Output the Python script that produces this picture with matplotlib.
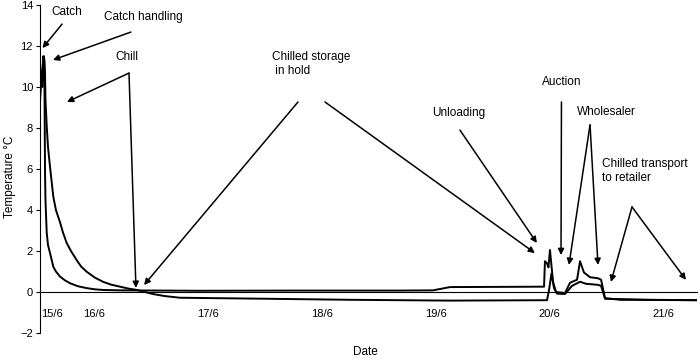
import matplotlib
matplotlib.use("Agg")
import matplotlib.pyplot as plt

plt.rcParams['font.family'] = ['Liberation Sans', 'DejaVu Sans']

# time in days (day of June), temperature in degC
fast_t = [15.523, 15.532, 15.543, 15.552, 15.561, 15.567, 15.571, 15.582, 15.593, 15.611,
          15.640, 15.663, 15.699, 15.742, 15.786, 15.857, 15.933, 16.006, 16.076, 16.226,
          16.929, 17.808, 18.686, 18.976, 19.126,
          19.565, 19.952, 19.960, 19.978, 19.991, 20.004, 20.017, 20.031, 20.057, 20.136,
          20.180, 20.242, 20.268, 20.303, 20.356, 20.426, 20.453, 20.488, 20.620, 21.296]
fast_temp = [9.2, 10.7, 10.0, 11.5, 11.3, 6.0, 4.5, 2.9, 2.3, 1.9,
             1.23, 1.0, 0.75, 0.57, 0.43, 0.28, 0.19, 0.13, 0.10, 0.08,
             0.06, 0.07, 0.07, 0.08, 0.24,
             0.25, 0.26, 1.5, 1.4, 1.2, 2.05, 1.3, 0.5, 0.0, -0.05,
             0.45, 0.6, 1.5, 0.95, 0.72, 0.67, 0.6, -0.3, -0.38, -0.4]

slow_t = [15.523, 15.536, 15.549, 15.558, 15.567, 15.571, 15.582, 15.593, 15.611, 15.640,
          15.663, 15.699, 15.725, 15.757, 15.795, 15.845, 15.883, 15.933, 16.006, 16.076,
          16.147, 16.226, 16.296, 16.375, 16.446, 16.516, 16.621, 16.753, 17.368, 18.247,
          19.126, 19.978, 19.996, 20.017, 20.039, 20.066, 20.136, 20.198, 20.268, 20.321,
          20.426, 20.453, 20.488, 20.883, 21.296]
slow_temp = [9.5, 10.5, 11.2, 11.5, 10.7, 9.4, 8.1, 7.1, 6.1, 4.65,
             4.0, 3.4, 2.9, 2.4, 2.0, 1.56, 1.25, 0.99, 0.7, 0.5,
             0.36, 0.26, 0.17, 0.1, 0.0, -0.1, -0.2, -0.28, -0.32, -0.38,
             -0.42, -0.4, 0.1, 0.9, 0.2, -0.08, -0.1, 0.3, 0.5, 0.4,
             0.35, 0.3, -0.33, -0.38, -0.4]

date_ticks = [15.63, 16, 17, 18, 19, 20, 21]
date_labels = ["15/6", "16/6", "17/6", "18/6", "19/6", "20/6", "21/6"]

# label text, text position, alignment, arrow tails/heads
notes = [
    ("Catch", (15.76, 13.66), "center", [((15.717, 13.07), (15.545, 11.90))]),
    ("Catch handling", (16.43, 13.41), "center", [((16.322, 12.68), (15.637, 11.32))]),
    ("Chill", (16.288, 11.46), "center", [((16.305, 10.68), (15.760, 9.27)),
                                         ((16.305, 10.68), (16.366, 0.20))]),
    ("Chilled storage\n in hold", (17.56, 11.75), "left", [((17.790, 9.27), (16.437, 0.34)),
                                                          ((18.027, 9.27), (19.872, 1.90))]),
    ("Unloading", (19.204, 8.73), "center", [((19.213, 7.90), (19.889, 2.39))]),
    ("Auction", (20.110, 10.24), "center", [((20.105, 9.27), (20.101, 1.80))]),
    ("Wholesaler", (20.504, 8.78), "center", [((20.356, 8.15), (20.171, 1.32)),
                                              ((20.356, 8.15), (20.426, 1.32))]),
    ("Chilled transport\nto retailer", (20.46, 6.55), "left", [((20.725, 4.15), (20.540, 0.49)),
                                                              ((20.725, 4.15), (21.199, 0.59))]),
]

fig = plt.figure(figsize=(7, 3.62), dpi=100)
ax = fig.add_axes([40 / 700, 29 / 362, 657 / 700, 328 / 362])

ax.plot(slow_t, slow_temp, color="black", lw=1.4)
ax.plot(fast_t, fast_temp, color="black", lw=1.4)

ax.set_xlim(15.523, 21.296)
ax.set_ylim(-2, 14)
ax.set_yticks(range(-2, 15, 2))
ax.spines['top'].set_visible(False)
ax.spines['right'].set_visible(False)
ax.spines['bottom'].set_position(('data', 0))
ax.spines['bottom'].set_linewidth(0.8)
ax.spines['left'].set_linewidth(0.8)
ax.tick_params(axis='y', direction='out', length=3, width=0.8, labelsize=8, pad=2)
ax.set_xticks(date_ticks)
ax.set_xticklabels(date_labels)
ax.tick_params(axis='x', length=0, labelsize=8, pad=12)

fig.text(10 / 700, 1 - 177 / 362, "Temperature \u00b0C", rotation=90,
         ha="center", va="center", fontsize=8.5)
fig.text(365 / 700, 1 - 352 / 362, "Date", ha="center", va="center", fontsize=8.5)

for label, pos, ha, arrows in notes:
    va = "top" if ha == "left" else "center"
    ax.text(pos[0], pos[1], label, ha=ha, va=va, fontsize=8.5, linespacing=1.25)
    for tail, head in arrows:
        ax.annotate("", xy=head, xytext=tail,
                    arrowprops=dict(arrowstyle="-|>", color="black", lw=1.1,
                                    mutation_scale=9, shrinkA=0, shrinkB=0))

fig.savefig("out.png", dpi=100)
